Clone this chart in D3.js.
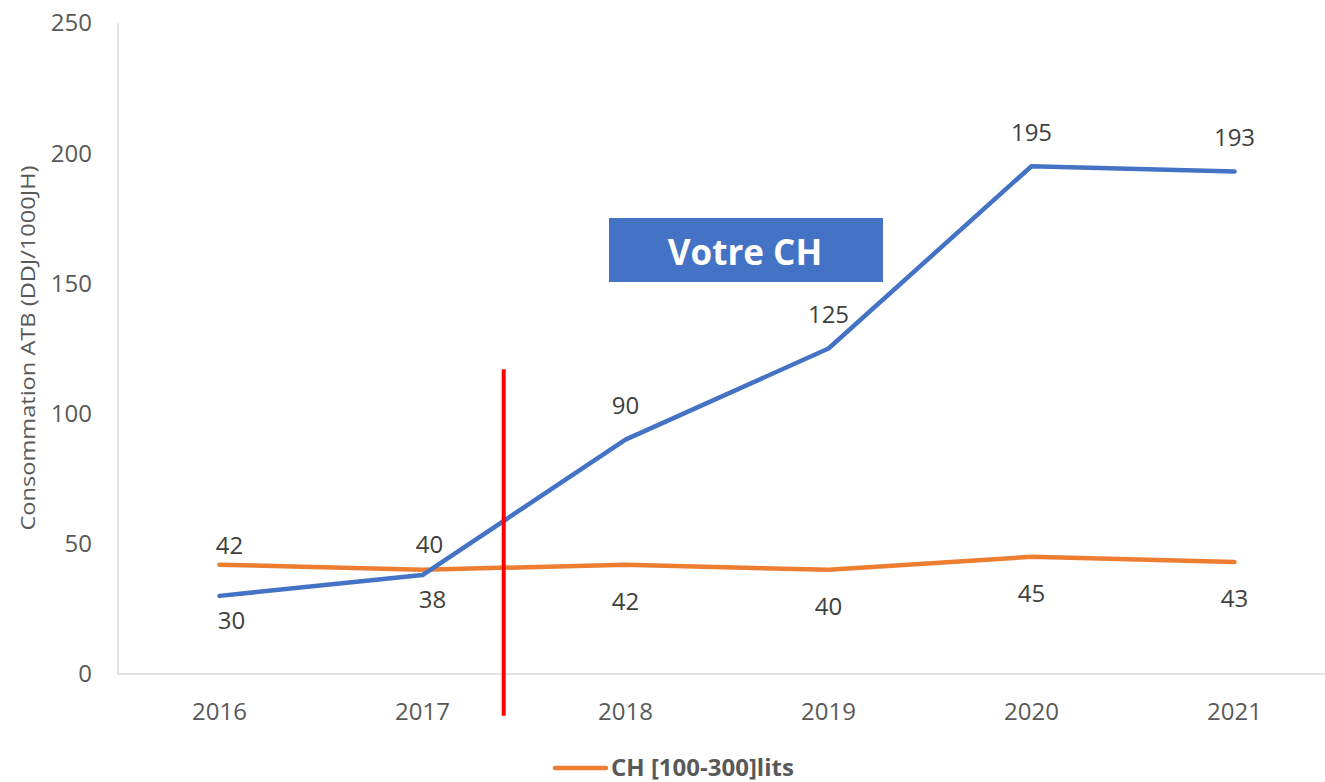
<!DOCTYPE html>
<html><head><meta charset="utf-8">
<script src="https://cdn.jsdelivr.net/npm/d3@7"></script>
<style>body{margin:0;background:#fff;} text{font-family:"Open Sans","Noto Sans",sans-serif;}</style>
</head><body>
<svg id="c" width="1325" height="782"></svg>
<script>
const years = ["2016","2017","2018","2019","2020","2021"];
const votreCH = [30, 38, 90, 125, 195, 193];
const chRef = [42, 40, 42, 40, 45, 43];
const yTicks = [0, 50, 100, 150, 200, 250];
const legendLabel = "CH [100-300]lits";
const boxLabel = "Votre CH";
const yTitle = "Consommation ATB (DDJ/1000JH)";
const redLineYear = 2017.4; // position between categories
const redLineRange = [117, -16];

// label layout (pixel offsets from the point)
const votreLabelDy = [25, 25, -34, -34, -34, -34];
const votreLabelDx = [12, 10, 0, 0, 0, 0];
const refLabelDy = [-19, -25, 37, 37, 37, 37];
const refLabelDx = [10, 7, 0, 0, 0, 0];

const svg = d3.select("#c");
const pL = 118, pR = 1336, pT = 23, pB = 674;
const x = d3.scalePoint().domain(years).range([pL, pR]).padding(0.5);
const y = d3.scaleLinear().domain([0, 250]).range([pB, pT]);

// axes lines
svg.append("line").attr("x1", pL).attr("x2", pL).attr("y1", pT).attr("y2", pB)
  .attr("stroke", "#d9d9d9").attr("stroke-width", 1.5);
svg.append("line").attr("x1", pL).attr("x2", 1325).attr("y1", pB).attr("y2", pB)
  .attr("stroke", "#d9d9d9").attr("stroke-width", 1.5);

svg.selectAll(".yt").data(yTicks).enter().append("text")
  .attr("x", 92).attr("y", d => y(d)).attr("dy", "0.35em").attr("text-anchor", "end")
  .attr("font-size", 24).attr("fill", "#595959").text(d => d);

svg.selectAll(".xt").data(years).enter().append("text")
  .attr("x", d => x(d)).attr("y", 712).attr("dy", "0.35em").attr("text-anchor", "middle")
  .attr("font-size", 24).attr("fill", "#595959").text(d => d);

svg.append("text").attr("transform", `translate(28,${348}) rotate(-90)`)
  .attr("text-anchor", "middle").attr("dy", "0.35em").attr("font-size", 20).attr("fill", "#595959")
  .attr("textLength", 365).attr("lengthAdjust", "spacingAndGlyphs")
  .text(yTitle);

const line = d3.line().x((d, i) => x(years[i])).y(d => y(d));
svg.append("path").datum(chRef).attr("d", line).attr("fill", "none")
  .attr("stroke", "#ED7D31").attr("stroke-width", 4.5).attr("stroke-linecap", "round").attr("stroke-linejoin", "round");
svg.append("path").datum(votreCH).attr("d", line).attr("fill", "none")
  .attr("stroke", "#4472C4").attr("stroke-width", 4.5).attr("stroke-linecap", "round").attr("stroke-linejoin", "round");

function labels(data, dx, dy) {
  svg.selectAll(null).data(data).enter().append("text")
    .attr("x", (d, i) => x(years[i]) + dx[i])
    .attr("y", (d, i) => y(d) + dy[i])
    .attr("dy", "0.35em").attr("text-anchor", "middle")
    .attr("font-size", 24).attr("fill", "#404040").text(d => d);
}
labels(chRef, refLabelDx, refLabelDy);
labels(votreCH, votreLabelDx, votreLabelDy);

// red vertical marker
const xYear = d3.scaleLinear().domain([2016, 2021]).range([x("2016"), x("2021")]);
svg.append("line").attr("x1", xYear(redLineYear)).attr("x2", xYear(redLineYear))
  .attr("y1", y(redLineRange[0])).attr("y2", y(redLineRange[1]))
  .attr("stroke", "#FF0000").attr("stroke-width", 4);

// Votre CH box
svg.append("rect").attr("x", 609).attr("y", 218).attr("width", 274).attr("height", 64).attr("fill", "#4472C4");
svg.append("text").attr("x", 745).attr("y", 253).attr("dy", "0.35em").attr("text-anchor", "middle")
  .attr("font-size", 35).attr("font-weight", "bold").attr("fill", "#fff").text(boxLabel);

// legend
svg.append("line").attr("x1", 555).attr("x2", 606).attr("y1", 768).attr("y2", 768)
  .attr("stroke", "#ED7D31").attr("stroke-width", 4.5).attr("stroke-linecap", "round");
svg.append("text").attr("x", 611).attr("y", 768).attr("dy", "0.35em")
  .attr("font-size", 24).attr("font-weight", "bold").attr("fill", "#595959").text(legendLabel);
</script>
</body></html>
